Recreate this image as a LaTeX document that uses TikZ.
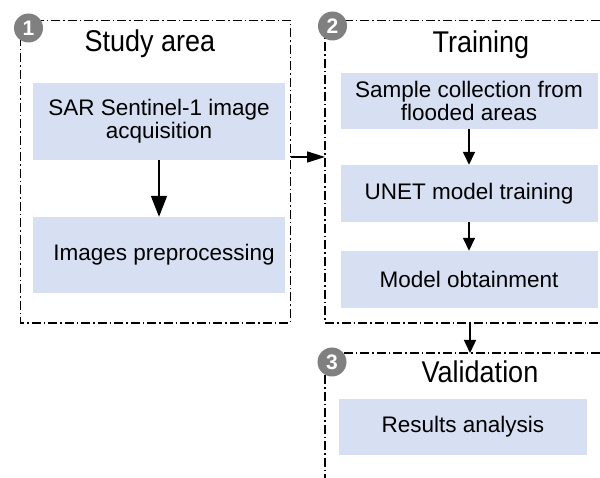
\documentclass[tikz,border=0pt]{standalone}
\usepackage{fontspec}
\setmainfont{Liberation Sans}
\newfontfamily\headfont{Liberation Sans}[FakeStretch=0.9]
\usetikzlibrary{arrows.meta,positioning}
\definecolor{taskblue}{RGB}{214,224,242}
\definecolor{badgegray}{RGB}{128,128,128}

\begin{document}
\begin{tikzpicture}[x=1pt,y=-1pt,
    frame/.style={line width=1.6pt,dash pattern=on 9pt off 3pt on 1.5pt off 3pt},
    task/.style={fill=taskblue,minimum width=252pt,minimum height=77pt,inner sep=0pt,
      align=center,font=\fontsize{22.5}{23}\selectfont},
    heading/.style={anchor=base,font=\headfont\fontsize{30}{32}\selectfont},
    badge/.style={circle,fill=badgegray,text=white,minimum size=29pt,inner sep=0pt,
      font=\fontsize{21}{21}\selectfont\bfseries},
    flow/.style={-{Triangle[length=13pt,width=12pt]},line width=1.5pt}]
  \useasboundingbox (0,0) rectangle (600,478);

  % frames
  \draw[frame] (20.5,20.5) rectangle (290.5,323);
  \draw[frame] (600,20.5) -- (325,20.5) -- (325,323) -- (600,323);
  \draw[frame] (600,353) -- (325,353) -- (325,478);
  \coordinate (f1e) at (290.5,157);
  \coordinate (f2w) at (325,157);
  \coordinate (f2s) at (470,323);
  \coordinate (f3n) at (470,353);

  % badges
  \node[badge] (b1) at (28.5,28) {1};
  \node[badge] (b2) at (332.5,26) {2};
  \node[badge] (b3) at (332,362) {3};

  % headings
  \node[heading] (areaT) at (150,52) {Study area};
  \node[heading] (trainT) at (481,53) {Training};
  \node[heading] (validT) at (480,383) {Validation};

  % tasks
  \node[task] (sar) at (159,121.5) {SAR Sentinel-1 image\\acquisition};
  \node[task,minimum height=76pt] (prep) at (159,255) {\hspace*{10pt}Images preprocessing};
  \node[task,minimum width=257pt,minimum height=56pt] (sample) at (469,101) {Sample collection from\\flooded areas};
  \node[task,minimum width=257pt,minimum height=57pt] (unet) at (469,193.5) {UNET model training};
  \node[task,minimum width=257pt,minimum height=57pt] (model) at (469,279.5) {Model obtainment};
  \node[task,minimum width=248pt,minimum height=56pt] (results) at (463,427) {Results analysis};

  % connectors
  \draw[flow,-{Triangle[length=21pt,width=16pt]}] (sar) -- (prep);
  \draw[flow,-{Triangle[length=18pt,width=11pt]}] (f1e) -- (f2w);
  \draw[flow] (sample) -- (unet);
  \draw[flow] (unet) -- (model);
  \draw[flow] (f2s) -- (f3n);
\end{tikzpicture}
\end{document}
